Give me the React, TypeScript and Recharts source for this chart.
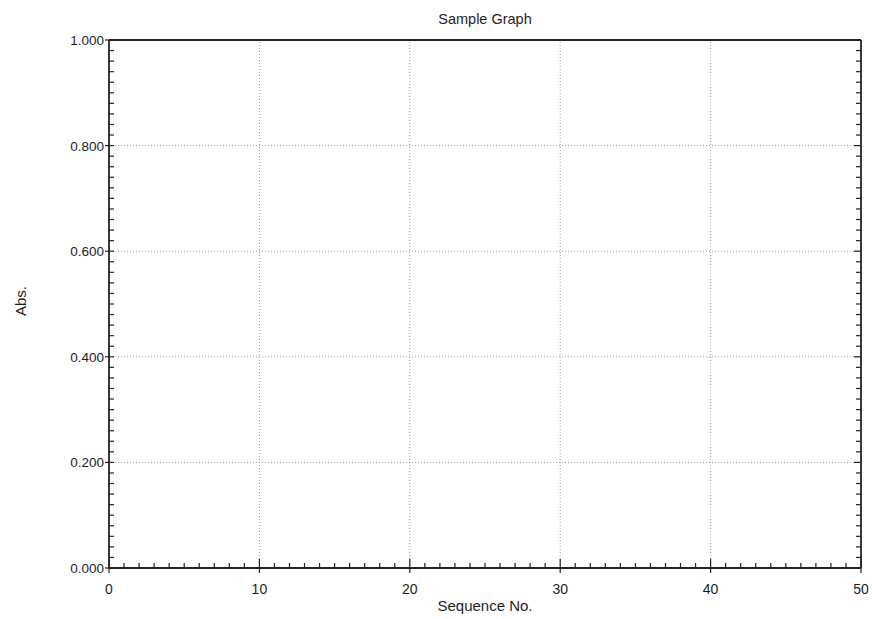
import React from 'react';
import { LineChart, Line, XAxis, YAxis, ReferenceLine } from 'recharts';

// sequence axis: minor tick every 1, label every 10
const xTicks = [
  0, 1, 2, 3, 4, 5, 6, 7, 8, 9, 10, 11, 12, 13, 14, 15, 16, 17, 18, 19, 20, 21, 22, 23, 24, 25,
  26, 27, 28, 29, 30, 31, 32, 33, 34, 35, 36, 37, 38, 39, 40, 41, 42, 43, 44, 45, 46, 47, 48, 49, 50,
];
const xMajor = [0, 10, 20, 30, 40, 50];
const xGrid = [10, 20, 30, 40];

// absorbance axis: minor tick every 0.02, label every 0.2
const yTicks = [
  0, 0.02, 0.04, 0.06, 0.08, 0.1, 0.12, 0.14, 0.16, 0.18, 0.2, 0.22, 0.24, 0.26, 0.28, 0.3, 0.32,
  0.34, 0.36, 0.38, 0.4, 0.42, 0.44, 0.46, 0.48, 0.5, 0.52, 0.54, 0.56, 0.58, 0.6, 0.62, 0.64, 0.66,
  0.68, 0.7, 0.72, 0.74, 0.76, 0.78, 0.8, 0.82, 0.84, 0.86, 0.88, 0.9, 0.92, 0.94, 0.96, 0.98, 1,
];
const yMajor = [0, 0.2, 0.4, 0.6, 0.8, 1];
const yGrid = [0.2, 0.4, 0.6, 0.8];

// no measurements on this sheet
const samples: { seq: number; abs: number }[] = [];

const AXIS = '#232323';
const GRID = '#9b9bab';
const FONT = '"Liberation Sans", Arial, sans-serif';

const isMajor = (list: number[], v: number) => list.some((m) => Math.abs(m - v) < 1e-9);

function BottomTick({ x, y, payload }: any) {
  const major = isMajor(xMajor, payload.value);
  return (
    <g>
      <line x1={x} y1={y + (major ? 5 : 0)} x2={x} y2={y - (major ? 9 : 5)} stroke={AXIS} strokeWidth={1.2} />
      {major && (
        <text x={x} y={y + 26} textAnchor="middle" fontSize={14} fill="#1e1e1e" fontFamily={FONT}>
          {payload.value}
        </text>
      )}
    </g>
  );
}

function TopTick({ x, y, payload }: any) {
  const major = isMajor(xMajor, payload.value);
  return <line x1={x} y1={y} x2={x} y2={y + (major ? 7 : 5)} stroke={AXIS} strokeWidth={1.2} />;
}

function LeftTick({ x, y, payload }: any) {
  const major = isMajor(yMajor, payload.value);
  return (
    <g>
      <line x1={x - (major ? 4 : 0)} y1={y} x2={x + 5} y2={y} stroke={AXIS} strokeWidth={1.2} />
      {major && (
        <text x={x - 5} y={y + 5} textAnchor="end" fontSize={13.5} fill="#1e1e1e" fontFamily={FONT}>
          {payload.value.toFixed(3)}
        </text>
      )}
    </g>
  );
}

function RightTick({ x, y, payload }: any) {
  const major = isMajor(yMajor, payload.value);
  return <line x1={x} y1={y} x2={x - (major ? 7 : 5)} y2={y} stroke={AXIS} strokeWidth={1.2} />;
}

export default function App() {
  return (
    <div style={{ position: 'absolute', left: 0, top: 0, width: 872, height: 619, background: '#fff', fontFamily: FONT }}>
      <div style={{ position: 'absolute', left: 109, width: 752, top: 11, textAlign: 'center', fontSize: 14.5, color: '#1e1e1e' }}>
        Sample Graph
      </div>
      <div style={{ position: 'absolute', left: 109, width: 752, top: 597, textAlign: 'center', fontSize: 15, color: '#1e1e1e' }}>
        Sequence No.
      </div>
      <div
        style={{
          position: 'absolute',
          left: 20,
          top: 301,
          transform: 'translate(-50%, -50%) rotate(-90deg)',
          fontSize: 15,
          color: '#1e1e1e',
        }}
      >
        Abs.
      </div>
      <LineChart width={872} height={619} data={samples} margin={{ top: 0, right: 0, bottom: 0, left: 0 }}>
        <XAxis
          xAxisId="bottom"
          dataKey="seq"
          type="number"
          domain={[0, 50]}
          ticks={xTicks}
          interval={0}
          height={51}
          tickSize={0}
          tickMargin={0}
          tickLine={false}
          tick={<BottomTick />}
          axisLine={{ stroke: AXIS, strokeWidth: 1.8 }}
          allowDataOverflow
        />
        <XAxis
          xAxisId="top"
          orientation="top"
          type="number"
          domain={[0, 50]}
          ticks={xTicks}
          interval={0}
          height={40}
          tickSize={0}
          tickMargin={0}
          tickLine={false}
          tick={<TopTick />}
          axisLine={{ stroke: AXIS, strokeWidth: 1.8 }}
          allowDataOverflow
        />
        <YAxis
          yAxisId="left"
          type="number"
          domain={[0, 1]}
          ticks={yTicks}
          interval={0}
          width={109}
          tickSize={0}
          tickMargin={0}
          tickLine={false}
          tick={<LeftTick />}
          axisLine={{ stroke: AXIS, strokeWidth: 1.8 }}
          allowDataOverflow
        />
        <YAxis
          yAxisId="right"
          orientation="right"
          type="number"
          domain={[0, 1]}
          ticks={yTicks}
          interval={0}
          width={11}
          tickSize={0}
          tickMargin={0}
          tickLine={false}
          tick={<RightTick />}
          axisLine={{ stroke: AXIS, strokeWidth: 1.8 }}
          allowDataOverflow
        />
        {xGrid.map((v) => (
          <ReferenceLine key={'x' + v} xAxisId="bottom" yAxisId="left" x={v} stroke={GRID} strokeDasharray="1 2" />
        ))}
        {yGrid.map((v) => (
          <ReferenceLine key={'y' + v} xAxisId="bottom" yAxisId="left" y={v} stroke={GRID} strokeDasharray="1 2" />
        ))}
        <Line xAxisId="bottom" yAxisId="left" dataKey="abs" stroke="#1f3fbf" dot={false} isAnimationActive={false} />
      </LineChart>
    </div>
  );
}
